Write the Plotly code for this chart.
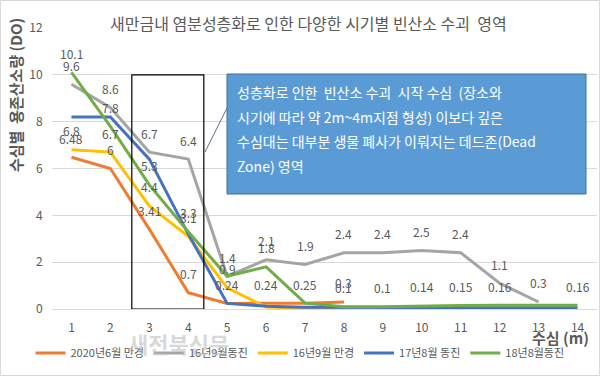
import plotly.graph_objects as go

# ---------------- data ----------------
depth = list(range(1, 15))

series_names = ["2020년6월 만경", "16년9월동진", "16년9월 만경", "17년8월 동진", "18년8월동진"]

orange_vals = [6.48, 6.0, 3.41, 0.7, 0.24, 0.24, 0.25, 0.3, None, None, None, None, None, None]
orange_lbls = ["6.48", "6", "3.41", "0.7", "0.24", "0.24", "0.25", "0.3", "", "", "", "", "", ""]

gray_vals = [9.6, 8.6, 6.7, 6.4, 1.4, 2.1, 1.9, 2.4, 2.4, 2.5, 2.4, 1.1, 0.3, None]
gray_lbls = ["9.6", "8.6", "6.7", "6.4", "1.4", "2.1", "1.9", "2.4", "2.4", "2.5", "2.4", "1.1", "0.3", ""]

yellow_vals = [6.8, 6.7, 4.4, 3.1, 0.9, 0.08, 0.04, 0.04, None, None, None, None, None, None]
yellow_lbls = ["6.8", "6.7", "4.4", "3.1", "0.9", "", "", "", "", "", "", "", "", ""]

blue_vals = [8.2, 8.2, 6.4, 3.2, 0.24, 0.12, 0.08, 0.07, 0.06, 0.05, 0.05, 0.05, 0.05, 0.05]
blue_lbls = [""] * 14

green_vals = [10.1, 7.8, 5.3, 3.3, 1.4, 1.8, 0.25, 0.1, 0.1, 0.14, 0.15, 0.16, 0.16, 0.16]
green_lbls = ["10.1", "7.8", "5.3", "3.3", "", "1.8", "", "0.1", "0.1", "0.14", "0.15", "0.16", "", "0.16"]

colors = ["#ED7D31", "#A5A5A5", "#FFC000", "#4472C4", "#70AD47"]

y_ticks = [0, 2, 4, 6, 8, 10, 12]

title_text = "새만금내 염분성층화로 인한 다양한 시기별 빈산소 수괴  영역"
ytitle_text = "수심별\u00a0\u00a0용존산소량 (DO)"
xtitle_text = "수심 (m)"
callout_lines = [
    "성층화로 인한\u00a0\u00a0빈산소 수괴\u00a0\u00a0시작 수심\u00a0\u00a0(장소와",
    "시기에 따라 약 2m~4m지점 형성) 이보다 깊은",
    "수심대는 대부분 생물 폐사가 이뤄지는 데드존(Dead",
    "Zone) 영역",
]
watermark = "새전북신문"

# ---------------- layout helpers ----------------
W, H = 600, 376
L, R, T, B = 52, 597, 28, 309
FONT = "Noto Sans CJK KR, Malgun Gothic, sans-serif"
TXT = "#595959"


def px_x(p):
    return (p - L) / (R - L)


def px_y(p):
    return (B - p) / (B - T)


fig = go.Figure()

all_vals = [orange_vals, gray_vals, yellow_vals, blue_vals, green_vals]
all_lbls = [orange_lbls, gray_lbls, yellow_lbls, blue_lbls, green_lbls]

for name, vals, col in zip(series_names, all_vals, colors):
    fig.add_trace(go.Scatter(
        x=depth, y=vals, name=name, mode="lines",
        line=dict(color=col, width=3), connectgaps=False,
    ))

annotations = []
for vals, lbls in zip(all_vals, all_lbls):
    for xv, yv, t in zip(depth, vals, lbls):
        if yv is None or not t:
            continue
        annotations.append(dict(
            x=xv, y=yv, xref="x", yref="y", text=t, showarrow=False,
            yshift=19, font=dict(family=FONT, size=12, color=TXT),
        ))

# title
annotations.append(dict(
    x=px_x(308), y=px_y(23), xref="paper", yref="paper", text=title_text,
    showarrow=False, font=dict(family=FONT, size=16, color=TXT),
    xanchor="center", yanchor="middle",
))
# y title
annotations.append(dict(
    x=px_x(15), y=px_y(95), xref="paper", yref="paper", text="<b>" + ytitle_text + "</b>",
    showarrow=False, textangle=-90, font=dict(family=FONT, size=15, color=TXT),
    xanchor="center", yanchor="middle",
))
# x title
annotations.append(dict(
    x=px_x(591), y=px_y(337), xref="paper", yref="paper", text="<b>" + xtitle_text + "</b>",
    showarrow=False, font=dict(family=FONT, size=15, color=TXT),
    xanchor="right", yanchor="middle",
))
# watermark
annotations.append(dict(
    x=px_x(178), y=px_y(343), xref="paper", yref="paper", text="<b>" + watermark + "</b>",
    showarrow=False, font=dict(family=FONT, size=22, color="rgba(190,190,190,0.6)"),
    xanchor="center", yanchor="middle",
))
# callout text
for i, line in enumerate(callout_lines):
    annotations.append(dict(
        x=px_x(235), y=px_y(92 + i * 24.5), xref="paper", yref="paper", text=line,
        showarrow=False, font=dict(family=FONT, size=14, color="white"),
        xanchor="left", yanchor="middle",
    ))

shapes = [
    # outer border
    dict(type="rect", xref="paper", yref="paper",
         x0=px_x(0.5), x1=px_x(599.5), y0=px_y(375.5), y1=px_y(0.5),
         line=dict(color="#d9d9d9", width=1), layer="below"),
    # black box over 3-4 m
    dict(type="rect", xref="x", yref="y", x0=2.55, x1=4.4, y0=0, y1=10,
         line=dict(color="black", width=1.2), fillcolor="rgba(0,0,0,0)"),
    # callout box
    dict(type="rect", xref="paper", yref="paper",
         x0=px_x(227), x1=px_x(586), y0=px_y(194), y1=px_y(74),
         line=dict(color="#41719C", width=1), fillcolor="#5B9BD5"),
    # callout pointer
    dict(type="line", xref="paper", yref="paper",
         x0=px_x(227), y0=px_y(108), x1=px_x(205), y1=px_y(152),
         line=dict(color="#5a6f8a", width=1)),
]

fig.update_layout(
    width=W, height=H,
    margin=dict(l=L, r=W - R, t=T, b=H - B, autoexpand=False),
    paper_bgcolor="white", plot_bgcolor="white",
    font=dict(family=FONT, color=TXT),
    showlegend=True,
    legend=dict(
        orientation="h", xref="container", yref="container",
        x=0.5, y=(H - 353) / H, xanchor="center", yanchor="middle",
        font=dict(family=FONT, size=11, color=TXT), itemwidth=30,
        bgcolor="rgba(0,0,0,0)", tracegroupgap=0,
    ),
    xaxis=dict(
        range=[0.5, 14.5], tickvals=depth, ticktext=[str(d) for d in depth],
        showgrid=False, zeroline=False, showline=False,
        ticks="outside", ticklen=8, tickcolor="rgba(0,0,0,0)",
        tickfont=dict(family=FONT, size=12, color=TXT),
    ),
    yaxis=dict(
        range=[0, 12], tickvals=y_ticks, showgrid=True, gridcolor="#d9d9d9", gridwidth=1,
        zeroline=True, zerolinecolor="#d9d9d9", zerolinewidth=1, showline=False,
        ticks="outside", ticklen=6, tickcolor="rgba(0,0,0,0)",
        tickfont=dict(family=FONT, size=12, color=TXT),
    ),
    annotations=annotations,
    shapes=shapes,
)

fig.write_html("out.html", config={"displayModeBar": False},
               post_script="document.body.style.margin='0';")
